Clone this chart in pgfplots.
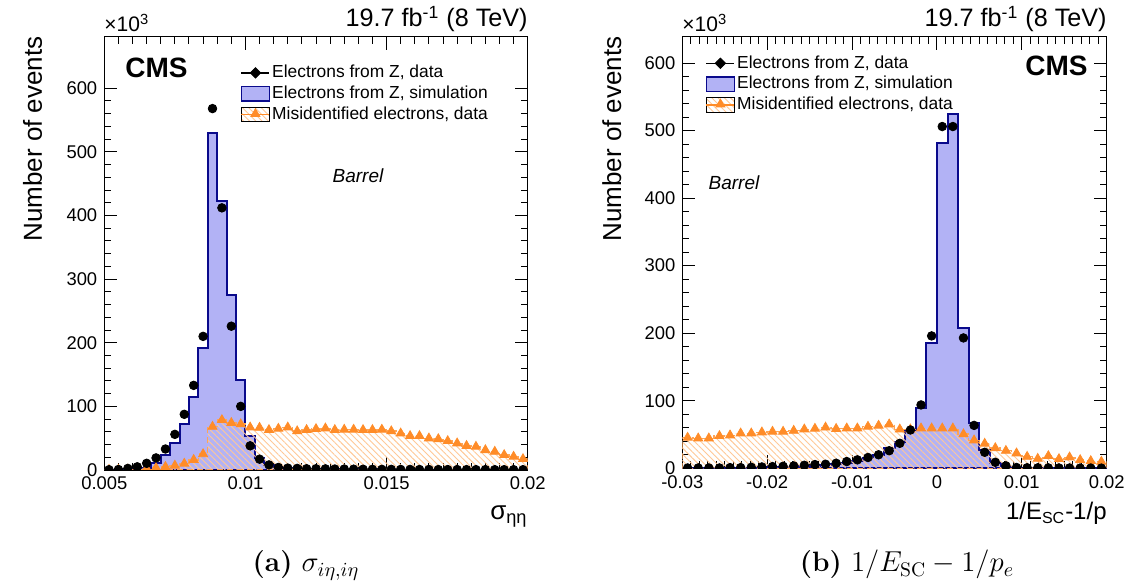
\documentclass[border=0pt]{standalone}
\usepackage{fontspec}
\usepackage{pgfplots}
\usepackage{pgfplotstable}
\pgfplotsset{compat=1.18}
\usetikzlibrary{patterns.meta}
\newfontfamily\arial{Liberation Sans}
\definecolor{simfill}{RGB}{178,178,245}
\definecolor{simline}{RGB}{10,10,140}
\definecolor{misor}{RGB}{255,140,40}
\definecolor{mishatch}{RGB}{255,200,150}
\definecolor{misline}{RGB}{255,165,85}

\pgfplotstableread{
k data sim mis
0 0.5 0.2 0.3
1 0.8 0.4 0.5
2 2.5 0.8 0.8
3 5 1.5 1.5
4 10.5 3.7 2.5
5 19 10.5 3.5
6 33 23.6 5
7 56 42 7
8 87.5 72 10
9 133 115 16
10 210 191 25
11 568 529 68
12 412 423 78.6
13 226 275 74
14 100 141 72
15 38 53 67
16 17 19 66.5
17 8 8 63
18 4 4 65
19 3 2.5 67
20 2.5 2 61
21 2 1.5 63
22 2 1.3 64.5
23 1.8 1.2 65.5
24 1.5 1 63
25 1.5 1 63.5
26 1.3 0.9 63.5
27 1.2 0.8 63
28 1.1 0.8 63
29 1 0.7 63.5
30 1 0.7 61
31 0.9 0.6 57.6
32 0.9 0.6 53.5
33 0.8 0.5 53.5
34 0.8 0.5 49.8
35 0.7 0.5 48.7
36 0.7 0.4 45.6
37 0.7 0.4 42
38 0.6 0.4 38
39 0.6 0.3 36.7
40 0.6 0.3 31.4
41 0.5 0.3 28.8
42 0.5 0.3 23.6
43 0.5 0.3 21
44 0.5 0.3 17.3
45 0.5 0.3 17.3
}\lefttab

\pgfplotstableread{
k data sim mis
0 0.5 0.3 45.4
1 0.5 0.3 44.4
2 0.5 0.4 44.4
3 0.5 0.5 47.9
4 1 0.6 48.9
5 1 0.8 51.8
6 1.5 1 51.8
7 2 1.3 53.3
8 2.5 1.6 54.3
9 3 2 54.3
10 3.5 2.5 55.7
11 4.5 3 57.7
12 5.5 4 58.7
13 6 5 60.5
14 7.5 6.5 58.5
15 10 8.5 59.2
16 12.5 11 59.2
17 16 14.5 61.7
18 20 19 63.2
19 26 30 65.2
20 37 39.5 57.7
21 56.7 56.7 57.7
22 93.8 89.8 59.2
23 196 186 59.2
24 506 481 59.2
25 506 524 59.2
26 193 207 50.5
27 63.5 67.6 41.5
28 23.7 27 36.5
29 8.9 8.3 30
30 3.6 2.4 26
31 1.2 1 22.2
32 0.8 0.6 17.2
33 0.7 0.4 14.2
34 0.6 0.3 18.2
35 0.5 0.3 13.8
36 0.5 0.2 16.3
37 0.4 0.2 12.3
38 0.4 0.2 10.8
39 0.3 0.2 9.8
40 0.3 0.2 9.8
}\righttab

\pgfplotsset{
  cmsaxis/.style={
    scale only axis, anchor=south west,
    ymin=0,
    ytick={0,100,...,600},
    yticklabels={0,100,200,300,400,500,600},
    scaled x ticks=false, scaled y ticks=false,
    minor y tick num=4,
    minor x tick num=9,
    tick align=inside,
    major tick length=6.5pt, minor tick length=3.5pt,
    every tick/.style={black, line width=0.5pt},
    axis line style={line width=0.6pt},
    /pgf/number format/assume math mode=true,
    ticklabel style={font=\arial\fontsize{9.2}{10}\selectfont},
    clip marker paths=true,
    legend cell align=left,
    legend style={draw=none, fill=none, font=\arial\fontsize{8.7}{9.5}\selectfont,
      row sep=0.6pt, inner sep=0pt, nodes={inner sep=1pt}},
  },
  dataimg/.style={legend image code/.code={
      \draw[black, line width=0.8pt] (0pt,0pt) -- (14pt,0pt);
      \fill[black] (7pt,2.6pt) -- (9.6pt,0pt) -- (7pt,-2.6pt) -- (4.4pt,0pt) -- cycle;}},
  simimg/.style={legend image code/.code={
      \draw[fill=simfill, draw=simline, line width=0.8pt] (0pt,-3.6pt) rectangle (14pt,3.6pt);}},
  misimg/.style={legend image code/.code={
      \fill[pattern={Lines[angle=-45,distance=2.2pt,line width=0.45pt]}, pattern color=mishatch] (0pt,-3.6pt) rectangle (14pt,3.6pt);
      \draw[misor, line width=0.8pt] (0pt,0pt) -- (14pt,0pt);
      \draw[misor] plot[mark=triangle*, mark size=2.6pt] coordinates {(7pt,0.3pt)};}},
}

\begin{document}
\begin{tikzpicture}
\useasboundingbox (0,0) rectangle (565.5pt,293.5pt);

% ---------------- left panel ----------------
\begin{axis}[cmsaxis,
  at={(52.15pt,58.5pt)}, width=211.7pt, height=216.65pt,
  xmin=0.005, xmax=0.02, ymax=681,
  xtick={0.005,0.01,0.015,0.02},
  xticklabels={0.005,0.01,0.015,0.02},
  legend style={at={(0.321,0.94)}, anchor=north west},
]
\addlegendimage{dataimg}\addlegendentry{Electrons from Z, data}
\addlegendimage{simimg}\addlegendentry{Electrons from Z, simulation}
\addlegendimage{misimg}\addlegendentry{Misidentified electrons, data}

\addplot[const plot mark left, fill=simfill, draw=simline, line width=1pt, forget plot]
  table[x expr={0.005+\thisrow{k}/3000}, y=sim] {\lefttab} \closedcycle;
\addplot[const plot mark left, draw=misline, densely dashed, line width=0.7pt,
  pattern={Lines[angle=-45,distance=2.2pt,line width=0.45pt]}, pattern color=mishatch, forget plot]
  table[x expr={0.005+\thisrow{k}/3000}, y=mis] {\lefttab} \closedcycle;
\addplot[only marks, mark=triangle*, mark size=2.6pt, color=misor, forget plot]
  table[x expr={0.005+(\thisrow{k}+0.5)/3000}, y=mis, skip coords between index={45}{46}] {\lefttab};
\addplot[only marks, mark=*, mark size=2.15pt, color=black, forget plot]
  table[x expr={0.005+(\thisrow{k}+0.5)/3000}, y=data, skip coords between index={45}{46}] {\lefttab};
\end{axis}

% ---------------- right panel ----------------
\begin{axis}[cmsaxis,
  at={(341.15pt,59.35pt)}, width=212.2pt, height=215.8pt,
  xmin=-0.03, xmax=0.02, ymax=639,
  xtick={-0.03,-0.02,-0.01,0,0.01,0.02},
  xticklabels={-0.03,-0.02,-0.01,0,0.01,0.02},
  legend style={at={(0.054,0.962)}, anchor=north west},
]
\addlegendimage{dataimg}\addlegendentry{Electrons from Z, data}
\addlegendimage{simimg}\addlegendentry{Electrons from Z, simulation}
\addlegendimage{misimg}\addlegendentry{Misidentified electrons, data}

\addplot[const plot mark left, fill=simfill, draw=simline, line width=1pt, forget plot]
  table[x expr={-0.03+\thisrow{k}*0.00125}, y=sim] {\righttab} \closedcycle;
\addplot[const plot mark left, draw=misline, densely dashed, line width=0.7pt,
  pattern={Lines[angle=-45,distance=2.2pt,line width=0.45pt]}, pattern color=mishatch, forget plot]
  table[x expr={-0.03+\thisrow{k}*0.00125}, y=mis] {\righttab} \closedcycle;
\addplot[only marks, mark=triangle*, mark size=2.6pt, color=misor, forget plot]
  table[x expr={-0.03+(\thisrow{k}+0.5)*0.00125}, y=mis, skip coords between index={40}{41}] {\righttab};
\addplot[only marks, mark=*, mark size=2.15pt, color=black, forget plot]
  table[x expr={-0.03+(\thisrow{k}+0.5)*0.00125}, y=data, skip coords between index={40}{41}] {\righttab};
\end{axis}

% ---------------- texts ----------------
\begin{scope}[every node/.style={inner sep=0pt}]
% left
\node[anchor=base east, font=\arial\fontsize{12.6}{13}\selectfont] at (264pt,280pt) {19.7 fb\textsuperscript{-1} (8 TeV)};
\node[anchor=base west, font=\arial\fontsize{10.5}{11}\selectfont] at (52pt,277.5pt) {×10\textsuperscript{3}};
\node[anchor=west, font=\arial\bfseries\fontsize{14}{15}\selectfont] at (62.5pt,259.5pt) {CMS};
\node[font=\arial\itshape\fontsize{9.5}{10}\selectfont] at (179pt,205.5pt) {Barrel};
\node[anchor=base east, rotate=90, font=\arial\fontsize{13}{14}\selectfont] at (21pt,275.5pt) {Number of events};
\node[anchor=base east, font=\arial\fontsize{13}{14}\selectfont] at (264pt,33.5pt) {σ\textsubscript{ηη}};
\node[anchor=base, font=\fontsize{14}{16}\selectfont] at (153pt,7.5pt) {\textbf{(a)} $\sigma_{i\eta,i\eta}$};
% right
\node[anchor=base east, font=\arial\fontsize{12.6}{13}\selectfont] at (553.5pt,280pt) {19.7 fb\textsuperscript{-1} (8 TeV)};
\node[anchor=base west, font=\arial\fontsize{10.5}{11}\selectfont] at (341pt,277.5pt) {×10\textsuperscript{3}};
\node[anchor=east, font=\arial\bfseries\fontsize{14}{15}\selectfont] at (544pt,260.5pt) {CMS};
\node[font=\arial\itshape\fontsize{9.5}{10}\selectfont] at (367pt,202pt) {Barrel};
\node[anchor=base east, rotate=90, font=\arial\fontsize{13}{14}\selectfont] at (310.5pt,275.5pt) {Number of events};
\node[anchor=base east, font=\arial\fontsize{12}{13}\selectfont] at (553.5pt,33.5pt) {1/E\textsubscript{SC}-1/p};
\node[anchor=base, font=\fontsize{14}{16}\selectfont] at (453.5pt,7.5pt) {\textbf{(b)} $1/E_{\mathrm{SC}}-1/p_e$};
\end{scope}
\end{tikzpicture}
\end{document}
